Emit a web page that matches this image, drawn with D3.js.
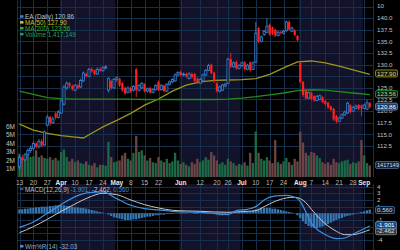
<!DOCTYPE html>
<html>
<head>
<meta charset="utf-8">
<script src="https://cdn.jsdelivr.net/npm/d3@7"></script>
<style>
body { margin: 0; background: #000; }
svg { display: block; font-family: "Liberation Sans", Arial, sans-serif; }
</style>
</head>
<body>
<script>
// daily candles, one per weekday from Mar 13 to Sep 5
var opens = [108,110,109.5,110.6,111.5, 112,113,112.3,113.5,112.7, 117,118.7,117.5,119.5,118.6,
  119.6,121.5,125,126,125.4, 124.5,125.5,125.2,126.5,128, 127.5,129,128.8,128,129,
  128.7,129.3,124.5,126.5,125, 126.8,127,126,125,124, 125,124.5,129,124.5,125,
  125.8,124.3,125,124,124.6, 126.3,124.6,125.5,124.3,125.8, 126.3,126.5,127.8,128.4,127.8,
  128,127,128,128,127, 126,126.5,127.8,128.8,130, 128.3,126,124.3,124.5,125.4,
  126,131.2,129.6,130.6,129.2, 129.8,130.5,129,130.5,129, 130.6,137.9,135,136.5,137,
  138.6,138,137.5,136.3,137, 136.8,137.3,139.2,137.2,137.4, 136.2,130.4,126.3,124.5,122.8,
  124,123.2,122.3,122.5,123, 122.2,121.8,121,120.5,119, 117.8,118.5,119.2,119.6,121.3,
  120,120.6,121.3,121.2,120.6, 120.4,121.7];
var closes = [110,109.5,110.6,111.5,112, 113,112.3,113.5,112.6,115.5, 118.7,117.5,118.3,118.6,119.8,
  122.2,125.2,126,125.5,124.8, 125.5,125,126.6,128.2,127.5, 129,128.6,128,129,128.7,
  129.3,129.5,127,125,126.8, 127.2,125.5,124.5,123.8,125, 124.2,125.3,124.5,125.5,126,
  124.3,124.8,124,124.6,125.5, 124.6,125.5,124.3,125.8,126.3, 126.8,127.8,128.3,127.8,128,
  127.5,128,127.3,126.5,126.2, 126.8,127.8,128.8,129.8,128.2, 126.4,124.3,125.2,125.6,125.8,
  131.2,129.6,130.4,129.2,129.8, 130.4,129,129.9,128.8,130.4, 136.8,135,136,137.2,138.3,
  136.5,136.7,136.3,137,136.8, 137.2,139.2,137.6,137.9,136.4, 135.3,126.3,123.5,122.8,124,
  122.6,122.3,123.2,123.3,122, 121.5,120.8,120.3,118.2,117.8, 118.5,119.2,119.8,121.7,119.8,
  120.8,121.1,120.5,120.6,121.3, 121.8,120.86];
var highs = [110.5,110.6,111,112,112.5, 113.5,113.4,114,114,115.8, 119.2,119,118.8,119.8,120.2,
  122.6,125.6,126.4,126.3,125.7, 125.8,125.9,127,128.5,128.3, 129.3,129.4,129,129.4,129.5,
  129.7,129.9,127.3,126.8,127.1, 127.5,127.2,126.3,125.3,125.3, 125.3,125.6,129.3,125.8,126.3,
  126,125.1,125.2,124.9,125.8, 126.6,125.8,125.7,126,126.6, 127.1,128.1,128.6,128.7,128.3,
  128.3,128.4,128.3,128.2,127.3, 127.1,128.1,129.1,130.2,130.2, 128.5,126.2,125.5,125.9,126.1,
  131.5,132.5,130.7,130.9,130.1, 130.7,130.8,130.2,130.7,130.7, 139.2,138.2,136.3,137.5,140,
  138.9,138.2,137.8,137.3,137.3, 137.5,139.5,139.6,138.2,137.6, 136.4,130.6,126.5,124.8,124.3,
  124.2,123.4,123.5,123.6,123.2, 122.4,122,121.2,120.7,119.2, 118.8,119.5,120.1,122,121.5,
  121.1,121.4,121.5,121.4,121.6, 122.4,122];
var lows = [107.4,109,109.2,110.3,111, 111.6,111.9,112,112.2,112.5, 116.7,116.8,117.2,118.2,118.4,
  119.4,121.2,124.6,125,124.4, 124.3,124.7,125,126.3,127.2, 127.3,128.3,127.7,127.8,128.5,
  128.5,129,124,124.6,124.8, 126.3,125.2,124.2,123.5,123.8, 123.9,124.2,123,124.2,124.8,
  124,124,123.7,123.8,124.4, 124.3,124.4,124,124.1,125.5, 126,126.3,127.6,127.5,127.5,
  127.2,126.8,127,126.2,125.9, 125.8,126.3,127.6,128.6,127.9, 126.1,124,124,124.3,125.1,
  125.8,129.3,129.3,128.9,129, 129.5,128.7,128.8,128.5,128.8, 130.3,134.7,134.8,136.2,136.8,
  136.2,136.4,136,136.1,136.5, 136.5,137.1,137.3,137,136.1, 135,126,123,122.4,122.6,
  122.3,122,122.1,122.3,121.7, 121.2,120.5,120,117.9,117.4, 117.6,118.3,119,119.4,119.5,
  119.8,120.4,120.2,119,120.4, 120.2,120.6];
var volumes = [2.8,2.3,2.5,2.6,2.4, 2.5,3.2,2.4,2.6,2.3, 2.2,2.4,2.1,2.3,2.0,
  3.0,3.3,2.4,1.9,2.2, 1.8,2.0,1.7,1.6,1.9, 1.5,1.4,1.7,1.2,1.5,
  1.5,1.4,4.2,2.4,1.8, 1.9,2.0,2.6,2.9,2.2, 2.0,2.9,4.9,3.0,3.2,
  2.6,2.0,2.3,1.8,1.7, 2.4,2.0,1.8,2.2,1.7, 1.9,2.9,2.0,1.6,1.8,
  1.5,1.3,1.8,1.6,2.2, 1.8,2.0,2.4,2.1,3.0, 2.6,2.0,1.6,1.8,1.5,
  2.2,1.9,1.7,1.4,1.6, 1.5,1.8,1.4,2.9,1.7, 5.4,2.9,2.2,2.0,2.4,
  2.0,1.7,4.4,1.8,1.6, 1.9,2.3,1.8,1.5,2.2, 1.9,5.4,4.1,2.9,2.6,
  3.0,2.9,2.6,2.3,1.8, 1.6,1.8,1.5,2.2,1.8, 1.7,1.9,2.0,2.1,1.6,
  1.8,1.7,1.9,4.4,2.6, 1.7,1.42];

// moving averages, read at sampled days
var maDays = [0,5,10,15,20,23,25,30,35,40,45,50,55,60,65,70,75,80,85,90,95,100,105,110,115,120,126];
var ma50 = [117.2,115.9,115.2,114.7,114.4,114.2,114.9,116.6,118,119.5,121.3,122.6,124.3,125.6,126.3,
  126.6,126.7,126.8,127,127.9,129.3,130.6,130.8,130.4,129.7,128.9,127.9];
var ma200 = [124.3,123.6,122.9,122.7,122.6,122.6,122.6,122.6,122.6,122.6,122.5,122.5,122.5,122.5,122.5,
  122.5,122.6,122.8,123.1,123.5,123.9,124.4,124.6,124.5,124.2,123.9,123.56];

var macdDays = [0,5,10,15,20,25,30,35,40,45,50,55,60,65,70,75,78,82,85,88,92,96,99,101,103,105,108,111,114,117,120,123,126];
var macdLine = [-2.1,-1.3,0,1.3,2.5,3.1,3.2,2.2,1.2,0.7,0.5,0.3,0.2,0.15,0,-0.2,0.4,0.6,1,2,2.6,2.7,2.4,1.8,0.2,
  -1.5,-2.7,-3.4,-3.8,-3.7,-3.1,-2.5,-1.9];
var signalLine = [-2.9,-2.0,-0.9,0.3,1.4,2.4,3,2.8,2,1.3,0.8,0.45,0.35,0.3,0.2,0.15,0.2,0.3,0.4,1,1.8,2.3,2.4,2.2,1.6,
  0.6,-0.8,-1.9,-2.7,-3.2,-3.2,-2.9,-2.46];
var histogram = [0.6,0.6,0.7,0.7,0.8,0.8,0.9,0.9,1.0,1.0, 1.0,1.1,1.1,1.2,1.2,1.2,1.2,1.1,1.1,1.0,
  0.9,0.9,0.8,0.8,0.7,0.6,0.5,0.4,0.3,0.2, 0.1,0,-0.2,-0.4,-0.6,-0.7,-0.8,-0.9,-1.0,-1.0,
  -1.0,-0.9,-0.9,-0.8,-0.7,-0.6,-0.5,-0.5,-0.4,-0.3, -0.3,-0.2,-0.2,-0.1,-0.1,-0.1,0,0,0.1,0.1,
  0.1,0,0,-0.1,-0.1,0,0,0.1,0.1,0, -0.1,-0.2,-0.3,-0.3,-0.2,-0.1,0.1,0.2,0.2,0.2,
  0.2,0.3,0.3,0.3,0.4,0.6,0.7,0.8,0.8,0.8, 0.8,0.7,0.7,0.6,0.5,0.4,0.3,0.2,0.1,0,
  -0.3,-0.7,-1.2,-1.6,-1.9,-2.1,-2.2,-2.2,-2.1,-2.0, -1.8,-1.6,-1.4,-1.2,-1.0,-0.8,-0.7,-0.5,-0.4,-0.3,
  -0.2,-0.1,0.1,0.2,0.3,0.45,0.56];

var dayTicks = [0,5,10,15,20,25,30,35,40,45,50,58,65,71,75,80,85,90,95,101,105,110,115,120,124];
var dayLabels = ["13","20","27","Apr","10","17","24","May","8","15","22","Jun","12","20","26","Jul","10","17","24","Aug","7","14","21","28","Sep"];
var monthBands = [[15,34],[58,79],[101,123]];
var priceTicks = [112.5,115,117.5,120,122.5,125,127.5,130,132.5,135,137.5,140,142.5];
var priceLabels = [112.5,115,117.5,120,122.5,125,130,132.5,135,137.5,140];
var volumeTicks = [1,2,3,4,5,6];
var macdTicks = [-4,-3,-2,-1,0,1,2,3,4];
var macdLabels = [-4,-1,1,2,3,4];

var width = 400, height = 250;
var plotL = 17, plotR = 373;

var svg = d3.select("body").append("svg")
  .attr("width", width).attr("height", height)
  .style("background", "#000");

var x = d3.scaleLinear().domain([0, 126]).range([19.5, 369.8]);
var yPrice = d3.scaleLinear().domain([105.8, 143.94]).range([177, 0]);
var yVol = d3.scaleLinear().domain([0, 20.88]).range([177.5, 0]);
var yMacd = d3.scaleLinear().domain([-4.45, 4.39]).range([243, 184]);
var half = 1.39;

// month shading
[[0, 177], [184, 250]].forEach(function(p) {
  svg.append("g").selectAll("rect").data(monthBands).enter().append("rect")
    .attr("x", function(d) { return x(d[0]) - half; })
    .attr("width", function(d) { return x(d[1]) - x(d[0]) + 2 * half; })
    .attr("y", p[0]).attr("height", p[1] - p[0])
    .attr("fill", "#12122a");
});

// grids
var grid = svg.append("g").attr("stroke", "#15304c").attr("stroke-width", 1);
grid.selectAll(".v1").data(dayTicks).enter().append("line")
  .attr("x1", function(d) { return Math.round(x(d)) + 0.5; })
  .attr("x2", function(d) { return Math.round(x(d)) + 0.5; })
  .attr("y1", 0).attr("y2", 177);
grid.selectAll(".v2").data(dayTicks).enter().append("line")
  .attr("x1", function(d) { return Math.round(x(d)) + 0.5; })
  .attr("x2", function(d) { return Math.round(x(d)) + 0.5; })
  .attr("y1", 184).attr("y2", 250);
grid.selectAll(".h1").data(priceTicks).enter().append("line")
  .attr("x1", plotL).attr("x2", plotR)
  .attr("y1", function(d) { return Math.round(yPrice(d)) + 0.5; })
  .attr("y2", function(d) { return Math.round(yPrice(d)) + 0.5; });
grid.selectAll(".h2").data(macdTicks).enter().append("line")
  .attr("x1", plotL).attr("x2", plotR)
  .attr("y1", function(d) { return Math.round(yMacd(d)) + 0.5; })
  .attr("y2", function(d) { return Math.round(yMacd(d)) + 0.5; });
grid.append("line").attr("x1", plotL + 0.5).attr("x2", plotL + 0.5).attr("y1", 0).attr("y2", 250);
grid.append("line").attr("x1", plotR + 0.5).attr("x2", plotR + 0.5).attr("y1", 0).attr("y2", 250);

// volume bars
svg.append("g").selectAll("rect").data(volumes).enter().append("rect")
  .attr("x", function(d, i) { return x(i) - 1.2; })
  .attr("width", 2.3)
  .attr("y", function(d) { return yVol(d); })
  .attr("height", function(d) { return yVol(0) - yVol(d); })
  .attr("fill", function(d, i) { return closes[i] >= opens[i] ? "#1b6a45" : "#6a4545"; });

// moving averages
var maLine = d3.line()
  .x(function(d, i) { return x(maDays[i]); })
  .y(function(d) { return yPrice(d); });
svg.append("path").datum(ma50).attr("d", maLine)
  .attr("fill", "none").attr("stroke", "#9a961c").attr("stroke-width", 1.3);
svg.append("path").datum(ma200).attr("d", maLine)
  .attr("fill", "none").attr("stroke", "#1f8c1f").attr("stroke-width", 1.3);

// candles
var candles = svg.append("g").selectAll("g").data(closes).enter().append("g");
candles.append("line")
  .attr("x1", function(d, i) { return x(i); })
  .attr("x2", function(d, i) { return x(i); })
  .attr("y1", function(d, i) { return yPrice(highs[i]); })
  .attr("y2", function(d, i) { return yPrice(lows[i]); })
  .attr("stroke", function(d, i) { return d >= opens[i] ? "#3b82d6" : "#ff2020"; })
  .attr("stroke-width", 0.9);
candles.append("rect")
  .attr("x", function(d, i) { return x(i) - 1.1; })
  .attr("width", 2.2)
  .attr("y", function(d, i) { return yPrice(Math.max(d, opens[i])); })
  .attr("height", function(d, i) { return Math.max(0.8, Math.abs(yPrice(d) - yPrice(opens[i]))); })
  .attr("fill", function(d, i) { return d >= opens[i] ? "#0b1428" : "#ff2020"; })
  .attr("stroke", function(d, i) { return d >= opens[i] ? "#3b82d6" : "none"; })
  .attr("stroke-width", 0.8);

// MACD
svg.append("g").selectAll("rect").data(histogram).enter().append("rect")
  .attr("x", function(d, i) { return x(i) - 1.2; })
  .attr("width", 2.2)
  .attr("y", function(d) { return yMacd(Math.max(0, d)); })
  .attr("height", function(d) { return Math.abs(yMacd(d) - yMacd(0)); })
  .attr("fill", "#3677b4");
var mLine = d3.line()
  .x(function(d, i) { return x(macdDays[i]); })
  .y(function(d) { return yMacd(d); })
  .curve(d3.curveMonotoneX);
svg.append("path").datum(signalLine).attr("d", mLine)
  .attr("fill", "none").attr("stroke", "#c8c8c8").attr("stroke-width", 1);
svg.append("path").datum(macdLine).attr("d", mLine)
  .attr("fill", "none").attr("stroke", "#3d90e0").attr("stroke-width", 1.2);

// x axis band
svg.append("rect").attr("x", 0).attr("y", 177).attr("width", width).attr("height", 7).attr("fill", "#000");
svg.append("g").selectAll("text").data(dayTicks).enter().append("text")
  .attr("x", function(d) { return x(d); })
  .attr("y", 184.5)
  .attr("text-anchor", "middle")
  .attr("font-size", "6.5px")
  .attr("font-weight", function(d, i) { return isNaN(+dayLabels[i]) ? "bold" : "normal"; })
  .attr("fill", function(d, i) { return isNaN(+dayLabels[i]) ? "#e8e8e8" : "#bbbbbb"; })
  .text(function(d, i) { return dayLabels[i]; });

// right axes
svg.append("g").selectAll("text").data(priceLabels).enter().append("text")
  .attr("x", 377).attr("y", function(d) { return yPrice(d) + 2.2; })
  .attr("font-size", "6.2px").attr("fill", "#c0c0c0")
  .text(function(d) { return d.toFixed(1); });
svg.append("text").attr("x", 377).attr("y", 7.5)
  .attr("font-size", "6.2px").attr("fill", "#c0c0c0").text("10");
svg.append("g").selectAll("text").data(macdLabels).enter().append("text")
  .attr("x", 377).attr("y", function(d) { return yMacd(d) + 2.2; })
  .attr("font-size", "6.2px").attr("fill", "#c0c0c0")
  .text(function(d) { return d; });
svg.append("g").selectAll("text").data(volumeTicks).enter().append("text")
  .attr("x", 15).attr("y", function(d) { return yVol(d) + 2.3; })
  .attr("text-anchor", "end")
  .attr("font-size", "6.5px").attr("fill", "#c0c0c0")
  .text(function(d) { return d + "M"; });

// value tags
function tag(y, label, stroke, fill, color, w, fs) {
  var g = svg.append("g");
  g.append("rect").attr("x", 375.5).attr("y", y - 3.5).attr("width", w || 22).attr("height", 7)
    .attr("rx", 1.5).attr("fill", fill).attr("stroke", stroke).attr("stroke-width", 0.8);
  g.append("text").attr("x", 377).attr("y", y + 2.1)
    .attr("font-size", fs || "6.2px").attr("fill", color).text(label);
}
tag(yPrice(ma50[ma50.length - 1]) - 1, "127.90", "#a8a420", "#1a1a08", "#d8d8a0");
tag(yPrice(ma200[ma200.length - 1]) - 0.5, "123.56", "#2a9a2a", "#0a1a0a", "#a8d8a8");
tag(yPrice(closes[closes.length - 1]) - 0.5, "120.86", "#5a8ac8", "#1c3c6c", "#ffffff");
tag(yVol(0) - 12.5, "1417149", "#4a6a90", "#15253c", "#d0d8e0", 23.5, "5.6px");
tag(yMacd(0.56) + 0.5, "0.560", "#3a78b8", "#0c1a2c", "#c8d8e8", 19);
tag(yMacd(-2.462) + 1.5, "-2.462", "#888", "#3a3a3a", "#dddddd", 21);
tag(yMacd(-1.901) - 1, "-1.901", "#5a8ac8", "#1c4a80", "#ffffff", 21);

// legend
var legend = [
  { t: "EA (Daily) 120.86", c: "#b8c0d0", k: "#3b82d6" },
  { t: "MA(50) 127.90", c: "#c8c430", k: "#c8c430" },
  { t: "MA(200) 123.56", c: "#30b030", k: "#30b030" },
  { t: "Volume 1,417,149", c: "#1fa060", k: "#1fa060" }
];
var lg = svg.append("g").selectAll("g").data(legend).enter().append("g")
  .attr("transform", function(d, i) { return "translate(20," + (16.7 + i * 5.9) + ")"; });
lg.append("rect").attr("x", 0).attr("y", -1.5).attr("width", 3.5).attr("height", 2.5)
  .attr("fill", function(d) { return d.k; });
lg.append("text").attr("x", 5).attr("y", 2.2).attr("font-size", "6.3px")
  .attr("fill", function(d) { return d.c; }).text(function(d) { return d.t; });

// MACD legend
var ml = svg.append("text").attr("x", 25).attr("y", 191.5).attr("font-size", "6.3px");
svg.append("rect").attr("x", 20).attr("y", 188.5).attr("width", 3.5).attr("height", 1.2).attr("fill", "#3d90e0");
ml.append("tspan").attr("fill", "#b8c0d0").text("MACD(12,26,9) ");
ml.append("tspan").attr("fill", "#3d90e0").text("-1.901, ");
ml.append("tspan").attr("fill", "#c8c8c8").text("-2.462, ");
ml.append("tspan").attr("fill", "#3d90e0").text("0.560");

// Williams %R legend
svg.append("rect").attr("x", 20).attr("y", 245).attr("width", 3.5).attr("height", 2.5).attr("fill", "#3d90e0");
svg.append("text").attr("x", 25).attr("y", 249).attr("font-size", "6.3px")
  .attr("fill", "#8ab0d8").text("Wm%R(14) -32.03");
</script>
</body>
</html>
